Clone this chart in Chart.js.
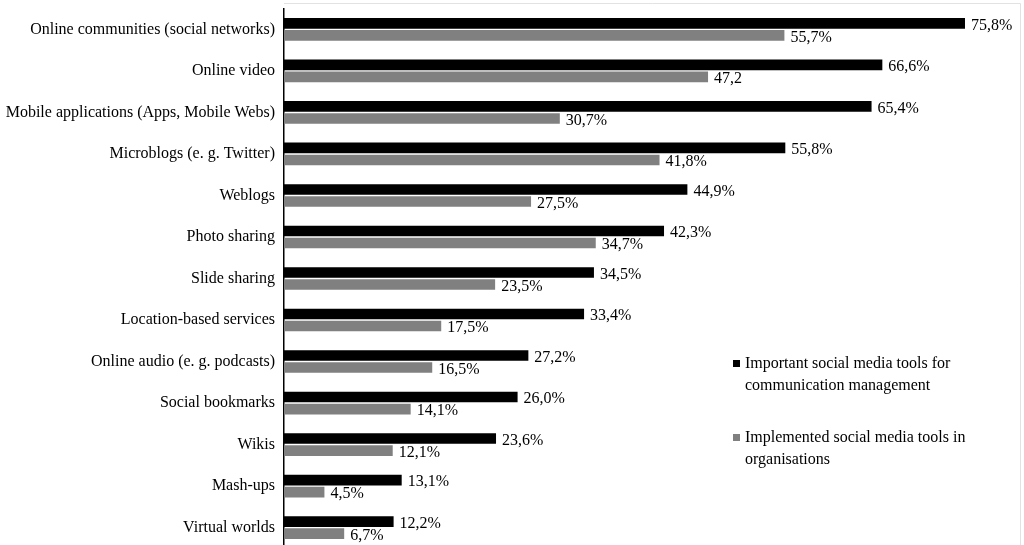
<!DOCTYPE html>
<html>
<head>
<meta charset="utf-8">
<script src="https://cdn.jsdelivr.net/npm/chart.js@4/dist/chart.umd.min.js"></script>
<style>
  html, body { margin: 0; padding: 0; background: #fff; overflow: hidden; }
  #wrap { position: relative; width: 1024px; height: 545px; overflow: hidden; }
  #box { position: absolute; left: 0; top: -10px; width: 1024px; height: 577px; }
  .legend { position: absolute; left: 733px; font: 16px "Liberation Serif", serif; color: #000; line-height: 22px; }
  .legend .sw { position: absolute; left: 0; top: 8px; width: 7px; height: 7px; }
  .legend .tx { margin-left: 12px; white-space: nowrap; }
</style>
</head>
<body>
<div id="wrap">
  <div id="box"><canvas id="chart"></canvas></div>
  <div class="legend" style="top:352px"><div class="sw" style="background:#000"></div><div class="tx">Important social media tools for<br>communication management</div></div>
  <div class="legend" style="top:426px"><div class="sw" style="background:#808080"></div><div class="tx">Implemented social media tools in<br>organisations</div></div>
</div>
<script>
const categories = [
  "Online communities (social networks)",
  "Online video",
  "Mobile applications (Apps, Mobile Webs)",
  "Microblogs (e. g. Twitter)",
  "Weblogs",
  "Photo sharing",
  "Slide sharing",
  "Location-based services",
  "Online audio (e. g. podcasts)",
  "Social bookmarks",
  "Wikis",
  "Mash-ups",
  "Virtual worlds"
];

const important = [75.8, 66.6, 65.4, 55.8, 44.9, 42.3, 34.5, 33.4, 27.2, 26.0, 23.6, 13.1, 12.2];
const implemented = [55.7, 47.2, 30.7, 41.8, 27.5, 34.7, 23.5, 17.5, 16.5, 14.1, 12.1, 4.5, 6.7];

// label text as printed in the source (one of them has no % sign)
const importantLabels = ["75,8%", "66,6%", "65,4%", "55,8%", "44,9%", "42,3%", "34,5%", "33,4%", "27,2%", "26,0%", "23,6%", "13,1%", "12,2%"];
const implementedLabels = ["55,7%", "47,2", "30,7%", "41,8%", "27,5%", "34,7%", "23,5%", "17,5%", "16,5%", "14,1%", "12,1%", "4,5%", "6,7%"];

const barLabels = {
  id: "barLabels",
  afterDatasetsDraw(chart) {
    const ctx = chart.ctx;
    ctx.save();
    ctx.font = '16px "Liberation Serif", serif';
    ctx.fillStyle = "#000";
    ctx.textAlign = "left";
    ctx.textBaseline = "middle";
    chart.data.datasets.forEach((ds, i) => {
      chart.getDatasetMeta(i).data.forEach((bar, j) => {
        ctx.fillText(ds.valueLabels[j], bar.x + 6, bar.y + 2);
      });
    });
    ctx.restore();
  }
};

// faint page frame seen on the scan (top and right edges)
const frame = {
  id: "frame",
  afterDraw(chart) {
    const ctx = chart.ctx;
    ctx.save();
    ctx.strokeStyle = "#e2e2e2";
    ctx.lineWidth = 1;
    ctx.beginPath();
    ctx.moveTo(284, 13.5);
    ctx.lineTo(1020.5, 13.5);
    ctx.lineTo(1020.5, 577);
    ctx.stroke();
    ctx.restore();
  }
};

new Chart(document.getElementById("chart"), {
  type: "bar",
  data: {
    labels: categories,
    datasets: [
      {
        label: "Important social media tools for communication management",
        data: important,
        valueLabels: importantLabels,
        backgroundColor: "#000000"
      },
      {
        label: "Implemented social media tools in organisations",
        data: implemented,
        valueLabels: implementedLabels,
        backgroundColor: "#808080"
      }
    ]
  },
  options: {
    indexAxis: "y",
    responsive: true,
    maintainAspectRatio: false,
    animation: false,
    categoryPercentage: 0.58,
    barPercentage: 0.88,
    layout: { padding: { top: 0, right: 6, bottom: 0, left: 0 } },
    plugins: {
      legend: { display: false },
      tooltip: { enabled: false }
    },
    scales: {
      x: {
        display: false,
        min: 0,
        max: 81.7
      },
      y: {
        afterFit: (s) => { s.width = 284; },
        grid: { color: "rgba(0,0,0,0)", drawTicks: false },
        border: { display: true, color: "#000", width: 1.5 },
        ticks: {
          padding: 9,
          color: "#000",
          font: { family: '"Liberation Serif", serif', size: 16 }
        }
      }
    }
  },
  plugins: [barLabels, frame]
});
</script>
</body>
</html>
